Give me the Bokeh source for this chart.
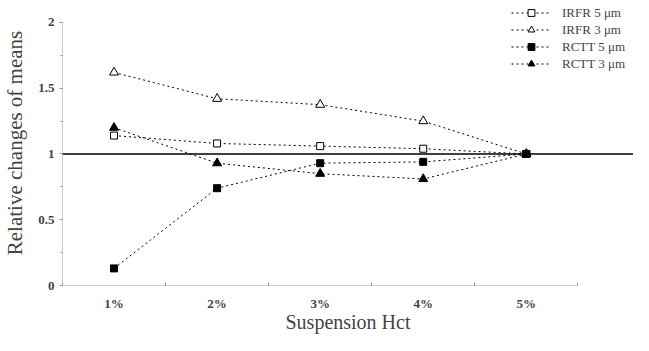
from bokeh.plotting import figure
from bokeh.models import Range1d, FixedTicker, Span, Legend, LegendItem
from bokeh.embed import file_html
from bokeh.resources import INLINE

categories = ["1%", "2%", "3%", "4%", "5%"]
irfr_5 = [1.14, 1.08, 1.06, 1.04, 1.00]
irfr_3 = [1.62, 1.42, 1.375, 1.25, 1.00]
rctt_5 = [0.13, 0.74, 0.93, 0.94, 1.00]
rctt_3 = [1.20, 0.93, 0.85, 0.81, 1.00]
series_names = ["IRFR 5 \u03bcm", "IRFR 3 \u03bcm", "RCTT 5 \u03bcm", "RCTT 3 \u03bcm"]
y_ticks = [0, 0.5, 1, 1.5, 2]

xs = list(range(1, len(categories) + 1))
FONT = "Liberation Serif"

p = figure(width=633, height=335, output_backend="svg", toolbar_location=None,
           x_range=Range1d(0.5, 6.04), y_range=Range1d(0, 2.167),
           min_border_left=60, min_border_right=0, min_border_top=0, min_border_bottom=49)
p.outline_line_color = None
p.xgrid.visible = False
p.ygrid.visible = False
p.background_fill_color = "white"

p.add_layout(Span(location=1, dimension="width", line_color="black", line_width=1.5))

styles = [
    dict(marker="square", size=7, fill_color="white"),
    dict(marker="triangle", size=9, fill_color="white"),
    dict(marker="square", size=7, fill_color="black"),
    dict(marker="triangle", size=9, fill_color="black"),
]
data = [irfr_5, irfr_3, rctt_5, rctt_3]
items = []
for name, ys, st in zip(series_names, data, styles):
    l = p.line(xs, ys, line_color="black", line_width=1, line_dash="2 3")
    s = p.scatter(xs, ys, marker=st["marker"], size=st["size"], fill_color=st["fill_color"],
                  line_color="black", line_width=1)
    items.append(LegendItem(label=name, renderers=[l, s]))

legend = Legend(items=items, location=(449, 213), orientation="vertical",
                glyph_width=40, glyph_height=17, spacing=0, padding=0, margin=0,
                label_standoff=11, label_text_font=FONT, label_text_font_size="13px",
                label_height=17, background_fill_alpha=0, border_line_color=None)
p.add_layout(legend)

xa = p.xaxis[0]
xa.ticker = FixedTicker(ticks=xs, minor_ticks=[0.5 + i for i in range(len(xs) + 1)])
xa.major_label_overrides = {x: c for x, c in zip(xs, categories)}
xa.bounds = (0.5, 5.5)
xa.axis_line_color = "#999999"
xa.axis_line_dash = "1 1"
xa.major_tick_line_color = None
xa.major_tick_out = 0
xa.minor_tick_line_color = "#999999"
xa.minor_tick_in = 3
xa.minor_tick_out = 0
xa.major_label_standoff = 10
xa.major_label_text_font = FONT
xa.major_label_text_font_style = "bold"
xa.major_label_text_font_size = "13px"
xa.axis_label = "Suspension Hct"
xa.axis_label_text_font = FONT
xa.axis_label_text_font_style = "normal"
xa.axis_label_text_font_size = "20px"
xa.axis_label_standoff = -3

ya = p.yaxis[0]
ya.ticker = FixedTicker(ticks=y_ticks, minor_ticks=[0.25 * i for i in range(9)])
ya.major_label_overrides = {0: "0", 0.5: "0.5", 1: "1", 1.5: "1.5", 2: "2"}
ya.bounds = (0, 2)
ya.axis_line_color = "#999999"
ya.axis_line_dash = "1 1"
ya.major_tick_line_color = "#999999"
ya.major_tick_out = 3
ya.major_tick_in = 0
ya.minor_tick_line_color = "#999999"
ya.minor_tick_out = 2
ya.minor_tick_in = 0
ya.major_label_standoff = 5
ya.major_label_text_font = FONT
ya.major_label_text_font_style = "bold"
ya.major_label_text_font_size = "13px"
ya.axis_label = "Relative changes of means"
ya.axis_label_text_font = FONT
ya.axis_label_text_font_style = "normal"
ya.axis_label_text_font_size = "21px"
ya.axis_label_standoff = 8

open("out.html", "w").write(file_html(p, INLINE))
